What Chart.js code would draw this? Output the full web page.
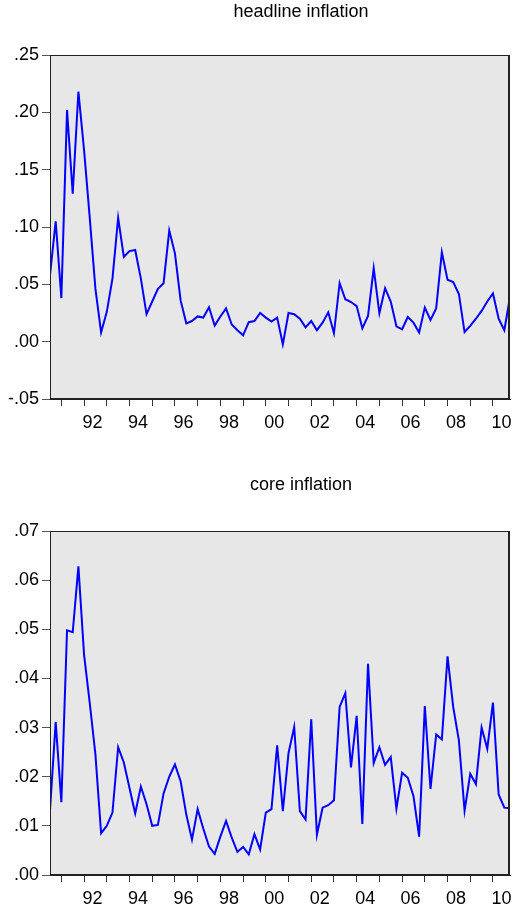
<!DOCTYPE html>
<html>
<head>
<meta charset="utf-8">
<title>headline and core inflation</title>
<script src="https://cdn.jsdelivr.net/npm/chart.js@4.4.1/dist/chart.umd.min.js"></script>
<style>
  html, body { margin: 0; padding: 0; background: #fff; }
  canvas { display: block; }
</style>
</head>
<body>
<canvas id="headlineChart" width="512" height="454"></canvas>
<canvas id="coreChart" width="512" height="453"></canvas>
<script>
// quarterly observations, 1990Q3 .. 2010Q4
const firstYear = 1990;
const firstQuarter = 3;

const headline = [
  0.058, 0.105, 0.038, 0.202, 0.129, 0.218, 0.167, 0.108, 0.046, 0.008,
  0.026, 0.055, 0.108, 0.074, 0.079, 0.080, 0.055, 0.024, 0.035, 0.046,
  0.051, 0.097, 0.077, 0.036, 0.016, 0.018, 0.022, 0.021, 0.030, 0.014,
  0.022, 0.029, 0.015, 0.010, 0.0055, 0.017, 0.018, 0.025, 0.021, 0.0175,
  0.021, -0.0023, 0.025, 0.024, 0.020, 0.0125, 0.018, 0.010, 0.0166, 0.0256,
  0.0073, 0.051, 0.037, 0.0346, 0.031, 0.0116, 0.0224, 0.064, 0.0247, 0.0466,
  0.035, 0.0134, 0.0108, 0.0215, 0.0166, 0.008, 0.0297, 0.019, 0.029, 0.078,
  0.054, 0.052, 0.0416, 0.0084, 0.0137, 0.020, 0.0268, 0.035, 0.042, 0.020,
  0.010, 0.0387
];

const core = [
  0.0132, 0.0311, 0.0148, 0.0498, 0.0494, 0.0628, 0.0448, 0.035, 0.0245, 0.0085,
  0.010, 0.0127, 0.026, 0.0229, 0.0177, 0.0125, 0.018, 0.0144, 0.010, 0.0102,
  0.0166, 0.020, 0.0225, 0.0191, 0.0123, 0.0072, 0.0134, 0.0094, 0.0058, 0.0043,
  0.0078, 0.011, 0.0076, 0.0047, 0.0057, 0.0042, 0.0083, 0.0052, 0.0127, 0.0134,
  0.0264, 0.013, 0.0248, 0.0301, 0.013, 0.0113, 0.0317, 0.0082, 0.0137, 0.0142,
  0.0152, 0.0342, 0.037, 0.0219, 0.0324, 0.0104, 0.043, 0.0228, 0.026, 0.0224,
  0.024, 0.0135, 0.0208, 0.0198, 0.0161, 0.0078, 0.0344, 0.0175, 0.0286, 0.0276,
  0.0445, 0.0342, 0.0274, 0.0131, 0.0206, 0.0185, 0.030, 0.0257, 0.0351, 0.0164,
  0.0137, 0.0136
];

const tickYears = [1991, 1992, 1993, 1994, 1995, 1996, 1997, 1998, 1999, 2000,
                   2001, 2002, 2003, 2004, 2005, 2006, 2007, 2008, 2009, 2010];
const labelYears = [1992, 1994, 1996, 1998, 2000, 2002, 2004, 2006, 2008, 2010];
const yearLabels = ['92', '94', '96', '98', '00', '02', '04', '06', '08', '10'];

const FONT = "'Liberation Sans', Arial, sans-serif";

// position of a quarter on the x scale (0 = first observation)
function qIndex(year, q) {
  return (year - firstYear) * 4 + (q - firstQuarter);
}

const yearTickPos = tickYears.map(y => qIndex(y, 1));
const labelPos = labelYears.map(y => qIndex(y, 1) + 1.5);

const panelPlugin = {
  id: 'panel',
  beforeDraw(chart) {
    const { ctx, chartArea: a } = chart;
    ctx.save();
    ctx.fillStyle = '#e7e7e7';
    ctx.fillRect(a.left, a.top, a.right - a.left, a.bottom - a.top);
    ctx.restore();
  },
  afterDraw(chart, args, opts) {
    const { ctx, chartArea: a } = chart;
    ctx.save();
    ctx.strokeStyle = '#222';
    ctx.lineWidth = 1;
    ctx.strokeRect(a.left + 0.5, a.top + 0.5, a.right - a.left - 1, a.bottom - a.top - 1);
    ctx.lineWidth = 2;
    ctx.beginPath();
    ctx.moveTo(a.right - 1, a.top);
    ctx.lineTo(a.right - 1, a.bottom);
    ctx.stroke();
    ctx.fillStyle = '#000';
    ctx.font = '18px ' + FONT;
    ctx.textAlign = 'center';
    ctx.textBaseline = 'middle';
    ctx.fillText(opts.text, opts.x, opts.y);
    ctx.restore();
  }
};

function makeChart(id, values, title, yMin, yMax, step, padTop, xHeight, titleY) {
  const points = values.map((v, i) => ({ x: i, y: v }));
  return new Chart(document.getElementById(id), {
    type: 'line',
    data: {
      datasets: [{
        label: title,
        data: points,
        borderColor: '#0000ff',
        borderWidth: 2,
        pointRadius: 0,
        tension: 0,
        fill: false
      }]
    },
    options: {
      responsive: false,
      animation: false,
      devicePixelRatio: 1,
      layout: { padding: { top: padTop, right: 2, left: 0, bottom: 0 } },
      plugins: {
        legend: { display: false },
        tooltip: { enabled: false },
        panel: { text: title, x: 301, y: titleY }
      },
      scales: {
        x: {
          type: 'linear',
          min: 0,
          max: values.length - 1,
          afterBuildTicks(scale) {
            const all = yearTickPos.concat(labelPos).sort((a, b) => a - b);
            scale.ticks = all.map(v => ({ value: v }));
          },
          afterFit(scale) {
            scale.height = xHeight;
            scale.paddingLeft = 0;
            scale.paddingRight = 0;
          },
          ticks: {
            autoSkip: false,
            maxRotation: 0,
            padding: 6,
            color: '#000',
            font: { family: FONT, size: 18 },
            callback(value) {
              const k = labelPos.indexOf(value);
              return k >= 0 ? yearLabels[k] : '';
            }
          },
          grid: {
            drawOnChartArea: false,
            tickLength: 7,
            tickWidth: 1,
            tickColor: ctx => (ctx.tick && Number.isInteger(ctx.tick.value)) ? '#333' : 'rgba(0,0,0,0)'
          },
          border: { display: true, color: '#222', width: 1 }
        },
        y: {
          min: yMin,
          max: yMax,
          afterFit(scale) { scale.width = 50; },
          ticks: {
            stepSize: step,
            padding: 3,
            color: '#000',
            font: { family: FONT, size: 18 },
            callback(value) {
              const v = Math.abs(value) < 1e-9 ? 0 : value;
              return v.toFixed(2).replace('0.', '.');
            }
          },
          grid: {
            drawOnChartArea: false,
            tickLength: 8,
            tickWidth: 1,
            tickColor: '#555'
          },
          border: { display: true, color: '#222', width: 1 }
        }
      }
    },
    plugins: [panelPlugin]
  });
}

makeChart('headlineChart', headline, 'headline inflation', -0.05, 0.25, 0.05, 55, 55, 12);
makeChart('coreChart', core, 'core inflation', 0, 0.07, 0.01, 77, 32, 31);
</script>
</body>
</html>
